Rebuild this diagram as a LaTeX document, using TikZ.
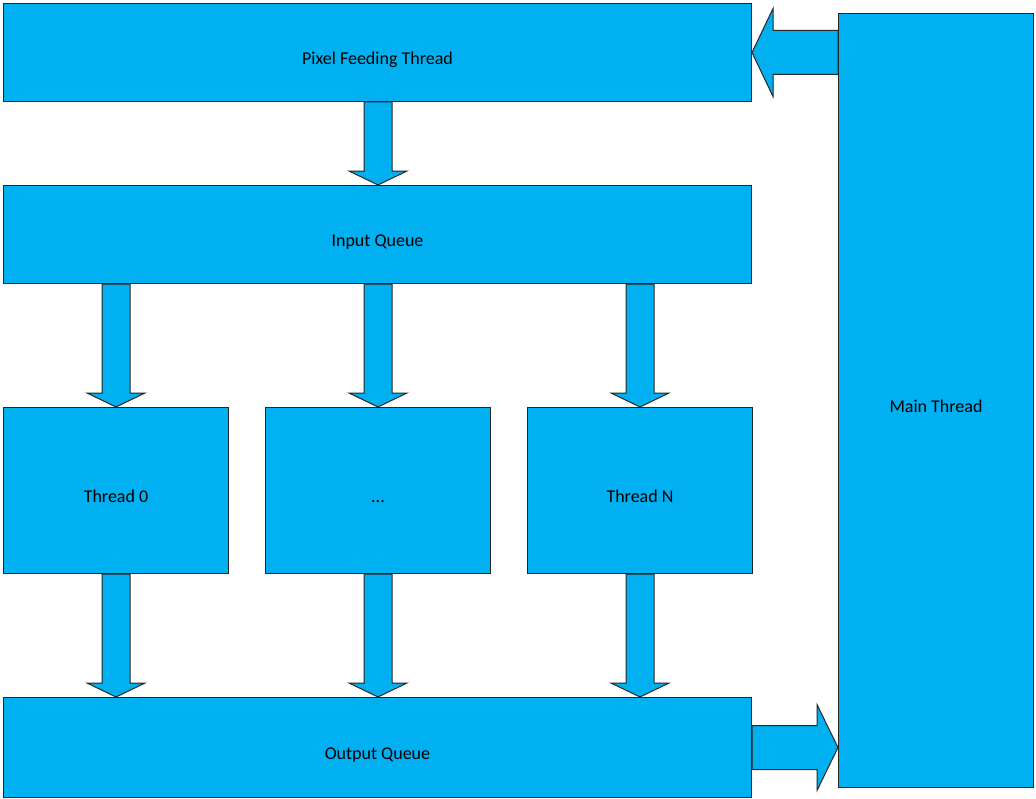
\documentclass[tikz,border=0pt]{standalone}
\usepackage{fontspec}
\setmainfont{Carlito}
\usepackage{tikz}
\usetikzlibrary{positioning, calc}
\definecolor{boxblue}{RGB}{0,176,240}
\tikzstyle{box} = [draw=black!85, line width=0.75pt, fill=boxblue, anchor=north west, align=center, font=\fontsize{13.5}{16}\selectfont, text height=21pt, text depth=3pt, inner sep=0pt]
\tikzstyle{fat} = [draw=black!85, line width=0.75pt, fill=boxblue, line join=miter]
% block arrow pointing down: #1 column node, #2 upper node, #3 lower node
\newcommand{\fatdown}[3]{%
	\draw[fat] ($(#1 |- #2.south) + (-14, 0)$) -- ($(#1 |- #2.south) + (14, 0)$) -- ($(#1 |- #3.north) + (14, -14)$) -- ++(15, 0) -- (#1 |- #3.north) -- ++(-29, -14) -- ++(15, 0) -- cycle;}

\begin{document}
\begin{tikzpicture}[x=0.75pt, y=-0.75pt]
		\useasboundingbox (0, 0) rectangle (1036, 799);
		\coordinate (feeder)  at (3,   3);
		\coordinate (inqueue) at (3,   185);
		\coordinate (thread0) at (3,   407);
		\coordinate (threadx) at (265, 407);
		\coordinate (threadn) at (527, 407);
		\coordinate (outqueu) at (3,   697);
		\coordinate (mainthr) at (838, 13);

		\node[box, minimum width=561pt, minimum height=73.5pt] (PFT) at (feeder) {Pixel Feeding Thread};
		\node[box, minimum width=561pt, minimum height=73.5pt] (INQ) at (inqueue) {Input Queue};
		\node[box, minimum width=168.75pt, minimum height=124.5pt] (TH0) at (thread0) {Thread 0};
		\node[box, minimum width=168.75pt, minimum height=124.5pt] (THX) at (threadx) {...};
		\node[box, minimum width=168.75pt, minimum height=124.5pt] (THN) at (threadn) {Thread N};
		\node[box, minimum width=561pt, minimum height=75pt] (OUQ) at (outqueu) {Output Queue};
		\node[box, minimum width=146.25pt, minimum height=580.5pt] (MAN) at (mainthr) {Main Thread};

		\fatdown{THX}{PFT}{INQ}
		\fatdown{TH0}{INQ}{TH0}
		\fatdown{THX}{INQ}{THX}
		\fatdown{THN}{INQ}{THN}
		\fatdown{TH0}{TH0}{OUQ}
		\fatdown{THX}{THX}{OUQ}
		\fatdown{THN}{THN}{OUQ}

		\draw[fat] (PFT.east) -- ++(21, -44) -- ++(0, 22) -- ($(PFT.east -| MAN.west) + (0, -22)$) -- ++(0, 44) -- ($(PFT.east) + (21, 22)$) -- ++(0, 22) -- cycle;
		\draw[fat] ($(OUQ.east) + (0, -22)$) -- ($(OUQ.east -| MAN.west) + (-21, -22)$) -- ++(0, -21) -- (OUQ.east -| MAN.west) -- ++(-21, 43) -- ++(0, -21) -- ($(OUQ.east) + (0, 22)$) -- cycle;

	\end{tikzpicture}
\end{document}
